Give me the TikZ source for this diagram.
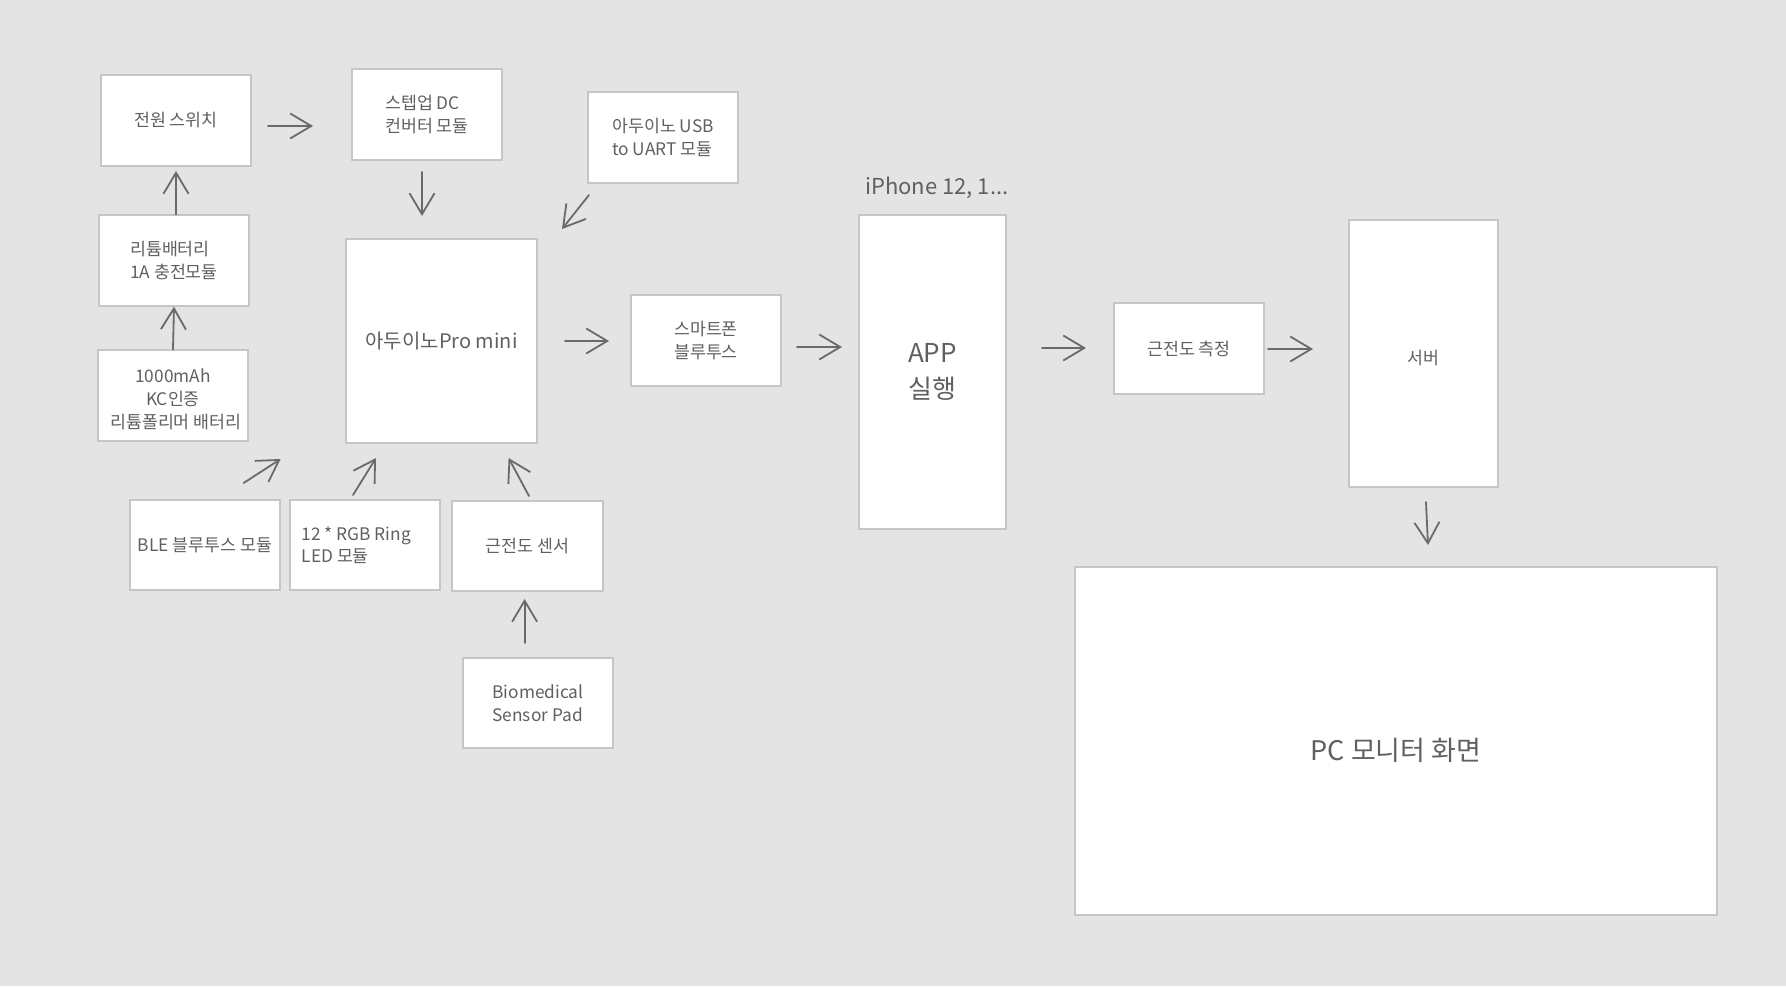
\documentclass[tikz,border=0pt]{standalone}
\usepackage{fontspec}
\setmainfont{Noto Sans CJK KR}
\usetikzlibrary{arrows.meta,calc}
\definecolor{bg}{HTML}{E4E4E4}
\definecolor{boxline}{HTML}{C6C6C6}
\definecolor{txt}{HTML}{606060}
\definecolor{arrc}{HTML}{6A6A6A}
\begin{document}
\begin{tikzpicture}[x=1pt,y=-1pt,
  box/.style={draw=boxline, fill=white, line width=1.3pt, rectangle, inner sep=0pt,
    text=txt, font=\fontsize{17.3}{22.5}\selectfont, minimum width=150pt, minimum height=91pt},
  boxlabel/.style={text=txt, inner sep=0pt},
  arr/.style={draw=arrc, line width=1.8pt, line cap=round,
    -{Straight Barb[length=21pt,width=25pt,line width=1.8pt]}}]
\fill[bg] (0,0) rectangle (1786,986);
\useasboundingbox (0,0) rectangle (1786,986);

% boxes
\node[box] (sw) at (176,120.5) {전원 스위치};
\node[box, align=left] (step) at (427,114.5) {스텝업 DC\\컨버터 모듈};
\node[box, align=left] (chg) at (174,260.5) {리튬배터리\\1A 충전모듈};
\node[box, label={[boxlabel, align=center, yshift=-3.5pt, font=\fontsize{17.3}{23}\selectfont]center:1000mAh\\KC인증\\\,\,리튬폴리머 배터리}] (bat) at (173,395.5) {};
\node[box, minimum width=191pt, minimum height=204pt, font=\fontsize{20}{26}\selectfont] (ard) at (441.5,341) {아두이노Pro mini};
\node[box, align=left] (usb) at (663,137.5) {아두이노 USB\\to UART 모듈};
\node[box, minimum height=90pt] (ble) at (205,545) {BLE 블루투스 모듈};
\node[box, minimum height=90pt, align=left] (rgb) at (365,545) {12 * RGB Ring\\LED 모듈\phantom{XXXXXX}};
\node[box, minimum width=151pt, minimum height=90pt] (emg) at (527.5,546) {근전도 센서};
\node[box, minimum height=90pt, align=left] (pad) at (538,703) {Biomedical\\Sensor Pad};
\node[box, align=center] (phbt) at (706,340.5) {스마트폰\\블루투스};
\node[box, minimum width=147pt, minimum height=314pt, align=center, font=\fontsize{26}{36}\selectfont] (app) at (932.5,372) {APP\\실행};
\node[box] (meas) at (1189,348.5) {근전도 측정};
\node[box, minimum width=149pt, minimum height=267pt, label={[boxlabel, yshift=-4.5pt, font=\fontsize{17.3}{22.5}\selectfont]center:서버}] (srv) at (1423.5,353.5) {};
\node[box, minimum width=642pt, minimum height=348pt, label={[boxlabel, yshift=-9pt, font=\fontsize{27}{32}\selectfont]center:PC 모니터 화면}] (pc) at (1396,741) {};

\node[anchor=base west, inner sep=0pt, text=txt, font=\fontsize{22}{26}\selectfont] (iph) at (865,194) {iPhone 12, 1...};

% arrow end points
\coordinate (a1s) at (268,126);  \coordinate (a1e) at (313,126);
\coordinate (a2e) at (176,171);
\coordinate (a4s) at (422,172);  \coordinate (a4e) at (422,216);
\coordinate (a5s) at (589,195);  \coordinate (a5e) at (562,229);
\coordinate (a6s) at (565,341);  \coordinate (a6e) at (609,341);
\coordinate (a7s) at (797,347);  \coordinate (a7e) at (842,347);
\coordinate (a8s) at (1042,348); \coordinate (a8e) at (1086,348);
\coordinate (a9s) at (1268,349); \coordinate (a9e) at (1313,349);
\coordinate (a10s) at (1426,502); \coordinate (a10e) at (1428,545);
\coordinate (a11s) at (243.6,483); \coordinate (a11e) at (280.7,459);
\coordinate (a12s) at (353,495); \coordinate (a12e) at (376,458);
\coordinate (a13s) at (529,496); \coordinate (a13e) at (508.6,458);
\coordinate (a14s) at (524.6,643); \coordinate (a14e) at (524.6,599);

% connectors
\draw[arr] (a1s) -- (a1e);
\draw[arr] (chg.north -| a2e) -- (a2e);
\draw[arr] (bat.north) -- (chg.south);
\draw[arr] (a4s) -- (a4e);
\draw[arr] (a5s) -- (a5e);
\draw[arr] (a6s) -- (a6e);
\draw[arr] (a7s) -- (a7e);
\draw[arr] (a8s) -- (a8e);
\draw[arr] (a9s) -- (a9e);
\draw[arr] (a10s) -- (a10e);
\draw[arr] (a11s) -- (a11e);
\draw[arr] (a12s) -- (a12e);
\draw[arr] (a13s) -- (a13e);
\draw[arr] (a14s) -- (a14e);
\end{tikzpicture}
\end{document}
